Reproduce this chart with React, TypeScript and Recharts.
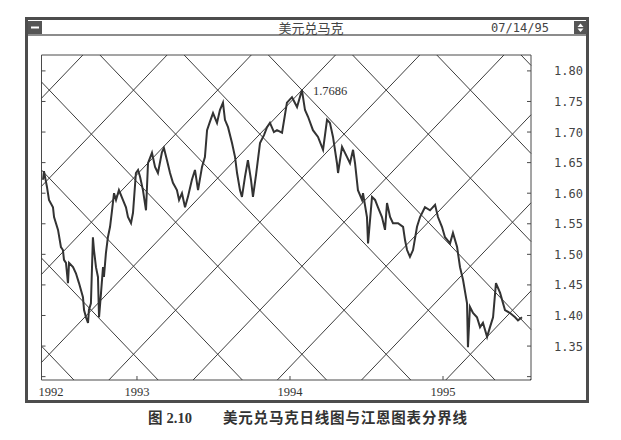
import React from 'react';
import {
  ComposedChart,
  Line,
  XAxis,
  YAxis,
  ReferenceLine,
  ReferenceArea,
  ReferenceDot,
} from 'recharts';

// Decimal-year dates and USD/DEM closes
const dates = [
  1992.386, 1992.392, 1992.412, 1992.425, 1992.451, 1992.458, 1992.484, 1992.503, 1992.516, 1992.523,
  1992.536, 1992.549, 1992.556, 1992.582, 1992.601, 1992.621, 1992.647, 1992.654, 1992.667, 1992.68,
  1992.686, 1992.699, 1992.712, 1992.719, 1992.732, 1992.745, 1992.752, 1992.765, 1992.778, 1992.784,
  1992.797, 1992.81, 1992.824, 1992.837, 1992.85, 1992.863, 1992.882, 1992.908, 1992.928, 1992.941,
  1992.961, 1992.974, 1992.993, 1993.007, 1993.02, 1993.039, 1993.059, 1993.072, 1993.098, 1993.118,
  1993.137, 1993.163, 1993.176, 1993.196, 1993.216, 1993.235, 1993.261, 1993.275, 1993.294, 1993.314,
  1993.333, 1993.359, 1993.379, 1993.399, 1993.425, 1993.444, 1993.458, 1993.477, 1993.497, 1993.523,
  1993.542, 1993.562, 1993.575, 1993.595, 1993.621, 1993.641, 1993.654, 1993.673, 1993.686, 1993.706,
  1993.725, 1993.745, 1993.758, 1993.778, 1993.804, 1993.83, 1993.85, 1993.869, 1993.895, 1993.915,
  1993.948, 1993.98, 1994.013, 1994.046, 1994.078, 1994.098, 1994.118, 1994.15, 1994.183, 1994.216,
  1994.242, 1994.261, 1994.281, 1994.307, 1994.314, 1994.34, 1994.373, 1994.392, 1994.412, 1994.425,
  1994.444, 1994.471, 1994.477, 1994.503, 1994.51, 1994.536, 1994.556, 1994.575, 1994.601, 1994.621,
  1994.634, 1994.654, 1994.673, 1994.706, 1994.739, 1994.752, 1994.765, 1994.784, 1994.804, 1994.83,
  1994.85, 1994.882, 1994.915, 1994.948, 1994.967, 1994.993, 1995.013, 1995.046, 1995.065, 1995.092,
  1995.111, 1995.131, 1995.157, 1995.163, 1995.176, 1995.196, 1995.222, 1995.242, 1995.261, 1995.288,
  1995.307, 1995.327, 1995.346, 1995.373, 1995.405, 1995.438, 1995.471, 1995.49, 1995.516,
];

const closes = [
  1.622, 1.636, 1.61, 1.589, 1.577, 1.561, 1.54, 1.512, 1.507, 1.491,
  1.486, 1.453, 1.486, 1.479, 1.469, 1.453, 1.43, 1.409, 1.397, 1.388,
  1.409, 1.42, 1.528, 1.507, 1.479, 1.463, 1.397, 1.437, 1.479, 1.463,
  1.502, 1.528, 1.545, 1.572, 1.6, 1.589, 1.605, 1.589, 1.577, 1.561,
  1.551, 1.568, 1.633, 1.638, 1.627, 1.605, 1.572, 1.649, 1.666, 1.643,
  1.633, 1.667, 1.674, 1.654, 1.633, 1.617, 1.605, 1.589, 1.6, 1.577,
  1.594, 1.622, 1.638, 1.605, 1.643, 1.659, 1.703, 1.717, 1.731, 1.715,
  1.736, 1.748, 1.72, 1.708, 1.682, 1.659, 1.633, 1.605, 1.594, 1.627,
  1.654, 1.622, 1.594, 1.63, 1.682, 1.695, 1.708, 1.715, 1.7, 1.703,
  1.699, 1.748, 1.757, 1.741, 1.7686, 1.736, 1.725, 1.703, 1.692, 1.671,
  1.72, 1.715, 1.692, 1.649, 1.633, 1.676, 1.659, 1.649, 1.671, 1.649,
  1.605, 1.589, 1.6, 1.561, 1.518, 1.594, 1.589, 1.577, 1.561, 1.54,
  1.584, 1.561, 1.551, 1.551, 1.545, 1.523, 1.507, 1.496, 1.507, 1.545,
  1.561, 1.577, 1.572, 1.581, 1.561, 1.545, 1.528, 1.518, 1.535, 1.512,
  1.479, 1.458, 1.42, 1.348, 1.414, 1.404, 1.397, 1.381, 1.388, 1.365,
  1.381, 1.397, 1.453, 1.437, 1.409, 1.404, 1.397, 1.392, 1.397,
];

const yearTicks = [1992.438, 1993, 1994, 1995];
const yearLabels = ['1992', '1993', '1994', '1995'];
const priceTicks = [1.3, 1.35, 1.4, 1.45, 1.5, 1.55, 1.6, 1.65, 1.7, 1.75, 1.8];
const priceLabels = ['', '1.35', '1.40', '1.45', '1.50', '1.55', '1.60', '1.65', '1.70', '1.75', '1.80'];

const X_DOMAIN: [number, number] = [1992.376, 1995.575];
const Y_DOMAIN: [number, number] = [1.2945, 1.826];

// Gann lattice: half cell width (years) and half cell height (price)
const GANN_HALF_SPAN = 0.2752;
const GANN_HALF_RISE = 0.072;

const chartData = dates.map((t, i) => ({ t, p: closes[i] }));
const peakIdx = closes.indexOf(Math.max(...closes));
const T0 = dates[peakIdx];
const P0 = closes[peakIdx];

type Pt = { x: number; y: number };
const gannSegments: [Pt, Pt][] = [];
{
  const s = GANN_HALF_RISE / GANN_HALF_SPAN;
  for (let k = -20; k <= 20; k++) {
    for (const dir of [1, -1]) {
      const m = dir * s;
      const a = P0 - m * T0 + 2 * GANN_HALF_RISE * k;
      const tA = (Y_DOMAIN[0] - a) / m;
      const tB = (Y_DOMAIN[1] - a) / m;
      const lo = Math.max(X_DOMAIN[0], Math.min(tA, tB));
      const hi = Math.min(X_DOMAIN[1], Math.max(tA, tB));
      if (hi - lo > 1e-6) {
        gannSegments.push([
          { x: lo, y: a + m * lo },
          { x: hi, y: a + m * hi },
        ]);
      }
    }
  }
}

const MARGIN = { top: 55, left: 41.5, right: 40, bottom: 40 };
const INK = '#4a4a4a';

const YTick = (props: any) => {
  const { x, y, index } = props;
  const label = priceLabels[index];
  return (
    <g>
      <line x1={MARGIN.left} x2={MARGIN.left + 4} y1={y} y2={y} stroke={INK} strokeWidth={1} />
      <line x1={x - 4} x2={x} y1={y} y2={y} stroke={INK} strokeWidth={1} />
      {label ? (
        <text
          x={x + 23}
          y={y}
          dy={4.5}
          fontFamily="'DejaVu Sans Mono', monospace"
          fontSize={12}
          fill="#444"
        >
          {label}
        </text>
      ) : null}
    </g>
  );
};

const XTick = (props: any) => {
  const { x, y, index, payload } = props;
  const isYear = Number.isInteger(payload.value);
  return (
    <g>
      {isYear ? <line x1={x} x2={x} y1={y} y2={y - 4} stroke={INK} strokeWidth={1} /> : null}
      <text
        x={x}
        y={y + 16}
        textAnchor="middle"
        fontFamily="'Liberation Serif', serif"
        fontSize={12.5}
        fill="#333"
      >
        {yearLabels[index]}
      </text>
    </g>
  );
};

const PeakLabel = (props: any) => {
  const vb = props.viewBox || {};
  return (
    <text
      x={(vb.x || 0) + 11}
      y={(vb.y || 0) + 4.5}
      fontFamily="'Liberation Serif', serif"
      fontSize={12.5}
      fill="#333"
    >
      {P0.toFixed(4)}
    </text>
  );
};

export default function App() {
  return (
    <div style={{ position: 'absolute', left: 0, top: 0, width: 621, height: 440, background: '#fff' }}>
      <svg width={621} height={440} style={{ position: 'absolute', left: 0, top: 0 }}>
        {/* window frame */}
        <rect x={26.5} y={18.5} width={561} height={383} fill="#fff" stroke="#4d4d4d" strokeWidth={3} />
        <line x1={28} x2={586} y1={35} y2={35} stroke="#666" strokeWidth={1.5} />
        <rect x={28} y={21} width={14} height={13} fill="#555" />
        <rect x={31} y={26.5} width={8} height={2} fill="#fff" />
        <rect x={574} y={21} width={13} height={13} fill="#555" />
        <polygon points="580.5,23.5 583.5,27 577.5,27" fill="#fff" />
        <polygon points="577.5,28.5 583.5,28.5 580.5,32" fill="#fff" />
        <text
          x={311}
          y={27.5}
          textAnchor="middle"
          dominantBaseline="central"
          fontFamily="'Noto Sans CJK SC', sans-serif"
          fontSize={13}
          fill="#444"
        >
          美元兑马克
        </text>
        <text
          x={520}
          y={27.5}
          textAnchor="middle"
          dominantBaseline="central"
          fontFamily="'DejaVu Sans Mono', monospace"
          fontSize={12}
          fill="#444"
        >
          07/14/95
        </text>
        {/* caption */}
        <text
          x={148}
          y={423}
          fontFamily="'Liberation Serif', 'Noto Sans CJK SC', serif"
          fontWeight={700}
          fontSize={14.5}
          fill="#333"
        >
          <tspan fontFamily="'Noto Sans CJK SC', sans-serif">图</tspan>
          <tspan dx={4}>2.10</tspan>
        </text>
        <text
          x={223}
          y={423}
          fontFamily="'Noto Sans CJK SC', sans-serif"
          fontWeight={700}
          fontSize={14.5}
          fill="#333"
          textLength={244}
          lengthAdjust="spacing"
        >
          美元兑马克日线图与江恩图表分界线
        </text>
      </svg>
      <div style={{ position: 'absolute', left: 0, top: 0 }}>
        <ComposedChart width={621} height={440} data={chartData} margin={MARGIN}>
          <XAxis
            dataKey="t"
            type="number"
            domain={X_DOMAIN}
            allowDataOverflow
            ticks={yearTicks}
            interval={0}
            axisLine={false}
            tickLine={false}
            tickSize={0}
            tickMargin={0}
            height={20}
            tick={<XTick />}
          />
          <YAxis
            orientation="right"
            type="number"
            domain={Y_DOMAIN}
            allowDataOverflow
            ticks={priceTicks}
            interval={0}
            axisLine={false}
            tickLine={false}
            tickSize={0}
            tickMargin={0}
            width={50}
            tick={<YTick />}
          />
          <ReferenceArea
            x1={X_DOMAIN[0]}
            x2={X_DOMAIN[1]}
            y1={Y_DOMAIN[0]}
            y2={Y_DOMAIN[1]}
            fill="none"
            fillOpacity={0}
            stroke={INK}
            strokeWidth={1}
            ifOverflow="visible"
          />
          {gannSegments.map((seg, i) => (
            <ReferenceLine
              key={i}
              segment={seg}
              stroke="#3c3c3c"
              strokeWidth={1}
              ifOverflow="visible"
            />
          ))}
          <Line
            dataKey="p"
            type="linear"
            stroke="#333"
            strokeWidth={2}
            dot={false}
            isAnimationActive={false}
          />
          <ReferenceDot
            x={T0}
            y={P0}
            r={0}
            fill="none"
            stroke="none"
            ifOverflow="visible"
            label={<PeakLabel />}
          />
        </ComposedChart>
      </div>
    </div>
  );
}
